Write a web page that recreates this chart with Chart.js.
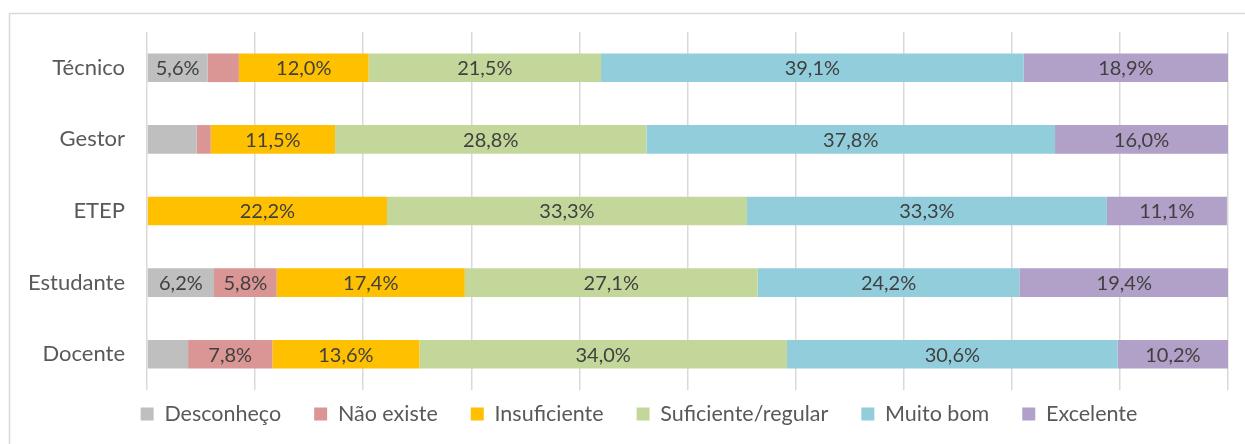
<!DOCTYPE html>
<html>
<head>
<meta charset="utf-8">
<script src="https://cdn.jsdelivr.net/npm/chart.js@4/dist/chart.umd.min.js"></script>
<style>
  body { margin: 0; background: #fff; }
  #wrap { width: 1245px; height: 444px; }
</style>
</head>
<body>
<div id="wrap"><canvas id="chart" width="1245" height="444"></canvas></div>
<script>
const categories = ['Técnico', 'Gestor', 'ETEP', 'Estudante', 'Docente'];
const seriesNames = ['Desconheço', 'Não existe', 'Insuficiente', 'Suficiente/regular', 'Muito bom', 'Excelente'];
const seriesColors = ['#bfbfbf', '#da9694', '#ffc000', '#c4d79b', '#92cddc', '#b1a0c7'];

const desconheco = [5.6, 4.6, 0, 6.2, 3.8];
const naoExiste = [2.9, 1.3, 0, 5.8, 7.8];
const insuficiente = [12.0, 11.5, 22.2, 17.4, 13.6];
const suficiente = [21.5, 28.8, 33.3, 27.1, 34.0];
const muitoBom = [39.1, 37.8, 33.3, 24.2, 30.6];
const excelente = [18.9, 16.0, 11.1, 19.4, 10.2];

const seriesValues = [desconheco, naoExiste, insuficiente, suficiente, muitoBom, excelente];

const FONT = 'Lato, "Open Sans", sans-serif';
const LEGEND_PAD = 33;
const LEGEND_SIZE = 21.5;

// labels inside the segments, skipped when the segment is too narrow
const barLabels = {
    id: 'barLabels',
    afterDatasetsDraw(chart) {
        const ctx = chart.ctx;
        ctx.save();
        ctx.font = '20px ' + FONT;
        ctx.fillStyle = '#404040';
        ctx.textAlign = 'center';
        ctx.textBaseline = 'middle';
        chart.data.datasets.forEach((ds, i) => {
            chart.getDatasetMeta(i).data.forEach((bar, j) => {
                const v = ds.data[j];
                if (v < 5) return;
                const x = (bar.x + bar.base) / 2;
                ctx.fillText(v.toFixed(1).replace('.', ',') + '%', x, bar.y + 1);
            });
        });
        ctx.restore();
    }
};

// outer frame of the chart object
const frame = {
    id: 'frame',
    beforeDraw(chart) {
        const ctx = chart.ctx;
        ctx.save();
        ctx.strokeStyle = '#d9d9d9';
        ctx.lineWidth = 1.5;
        ctx.strokeRect(9.5, 13.5, chart.width + 10, chart.height + 10);
        ctx.restore();
    }
};

// legend keeps wide gaps between items but sits close under the plot
const legendPlace = {
    id: 'legendPlace',
    beforeLayout(chart) {
        const lg = chart.legend;
        if (lg && !lg._patched) {
            const fit = lg.fit;
            lg.fit = function () { fit.call(this); this.height = 30; };
            lg._patched = true;
        }
    },
    afterLayout(chart) {
        const lg = chart.legend;
        lg.top = chart.chartArea.bottom + 24 - LEGEND_PAD - LEGEND_SIZE / 2;
        lg.bottom = chart.height;
        lg.height = lg.bottom - lg.top;
        lg.left += 25;
        lg.right += 25;
    }
};

new Chart(document.getElementById('chart'), {
    type: 'bar',
    data: {
        labels: categories,
        datasets: seriesNames.map((name, i) => ({
            label: name,
            data: seriesValues[i],
            backgroundColor: seriesColors[i],
            borderWidth: 0,
            categoryPercentage: 0.4,
            barPercentage: 1.0
        }))
    },
    options: {
        indexAxis: 'y',
        responsive: false,
        animation: false,
        layout: { padding: { left: 0, right: 17, top: 32, bottom: 24 } },
        scales: {
            x: {
                stacked: true,
                min: 0,
                max: 100,
                ticks: { display: false, stepSize: 10 },
                grid: { color: '#d9d9d9', lineWidth: 1.5, drawTicks: false },
                border: { display: false }
            },
            y: {
                stacked: true,
                afterFit(scale) {
                    scale.width = 147;
                    scale.paddingTop = 0;
                    scale.paddingBottom = 0;
                },
                ticks: { color: '#595959', font: { family: FONT, size: 22 }, padding: 22 },
                grid: { display: false, drawTicks: false },
                border: { display: false }
            }
        },
        plugins: {
            legend: {
                position: 'bottom',
                labels: {
                    color: '#595959',
                    font: { family: FONT, size: LEGEND_SIZE },
                    boxWidth: 13,
                    boxHeight: 13,
                    padding: LEGEND_PAD
                }
            },
            tooltip: { enabled: false }
        }
    },
    plugins: [frame, legendPlace, barLabels]
});
</script>
</body>
</html>
